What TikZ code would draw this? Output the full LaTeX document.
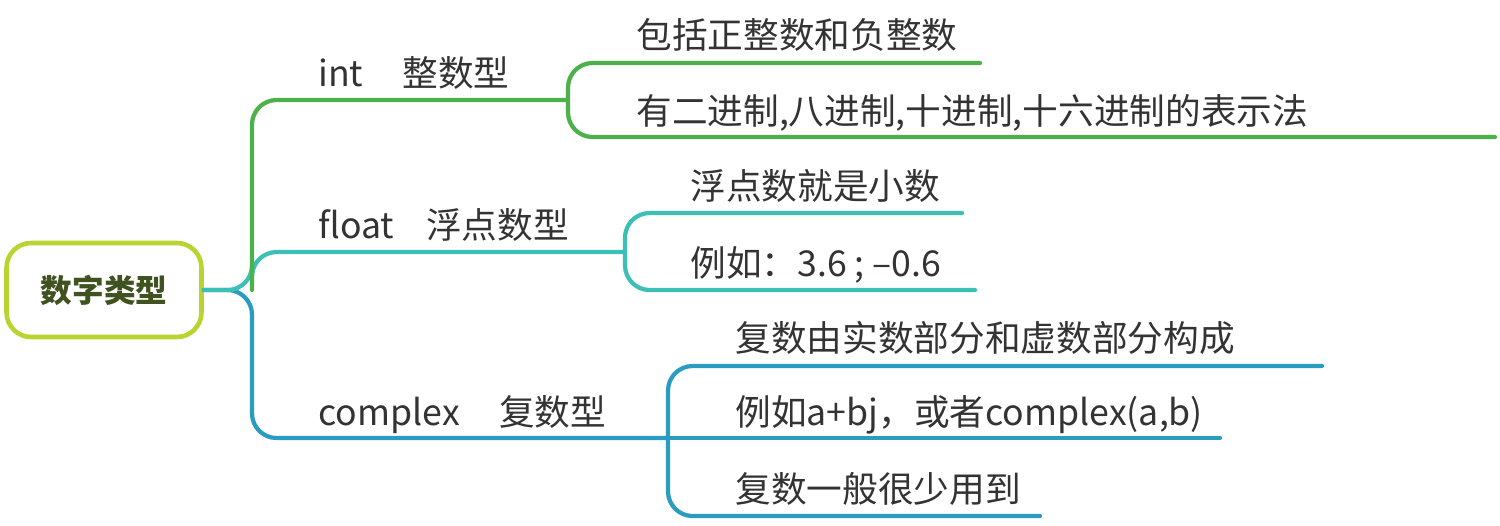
\documentclass[tikz,border=0pt]{standalone}
\usepackage{fontspec}
\setmainfont{Noto Sans CJK SC}
\begin{document}
\begin{tikzpicture}[x=0.02cm,y=-0.02cm,
  lbl/.style={anchor=base west,inner sep=0pt,text=black!80,font=\fontsize{20.3}{22}\selectfont},
  ln/.style={line width=2.4pt,rounded corners=14,line cap=round}]
\definecolor{cg}{HTML}{4DB14B}
\definecolor{ct}{HTML}{3CBFB4}
\definecolor{cb}{HTML}{2A9CC0}
\definecolor{cr}{HTML}{B8D430}
\definecolor{ctx}{HTML}{3F5220}
\useasboundingbox (0,0) rectangle (1500,525);
\node[draw=cr,line width=2.6pt,rounded corners=14,inner sep=0pt,
  minimum width=3.9cm,minimum height=1.88cm,font=\bfseries\fontsize{18}{20}\selectfont,text=ctx] (root) at (104,290) {数字类型};
\coordinate (j) at (252,290);
% blue complex
\draw[ln,cb] (root.east) -- (j) -- (252,438) -- (668,438);
\draw[ln,cb] (1322,366) -- (668,366) -- (668,516) -- (1040,516);
\draw[ln,cb] (668,438) -- (1220,438);
% teal float
\draw[ln,ct] (root.east) -- (j) -- (252,252) -- (625,252);
\draw[ln,ct] (962,213) -- (625,213) -- (625,290) -- (975,290);
% green int
\draw[ln,cg] (252,290) -- (252,100) -- (568,100);
\draw[ln,cg] (980,63) -- (568,63) -- (568,137) -- (1495,137);
% labels
\node[lbl] (l1) at (318,86) {int\hspace{1.1em}整数型};
\node[lbl] (l2) at (318,238) {float\hspace{0.9em}浮点数型};
\node[lbl] (l3) at (318,425) {complex\hspace{1.1em}复数型};
\node[lbl] (a1) at (636,48) {包括正整数和负整数};
\node[lbl] (a2) at (636,124) {有二进制,八进制,十进制,十六进制的表示法};
\node[lbl] (b1) at (690,199) {浮点数就是小数};
\node[lbl] (b2) at (690,276) {例如：3.6 ; –0.6};
\node[lbl] (c1) at (735,351) {复数由实数部分和虚数部分构成};
\node[lbl] (c2) at (735,425) {例如a+bj，或者complex(a,b)};
\node[lbl] (c3) at (735,502) {复数一般很少用到};
\end{tikzpicture}
\end{document}
